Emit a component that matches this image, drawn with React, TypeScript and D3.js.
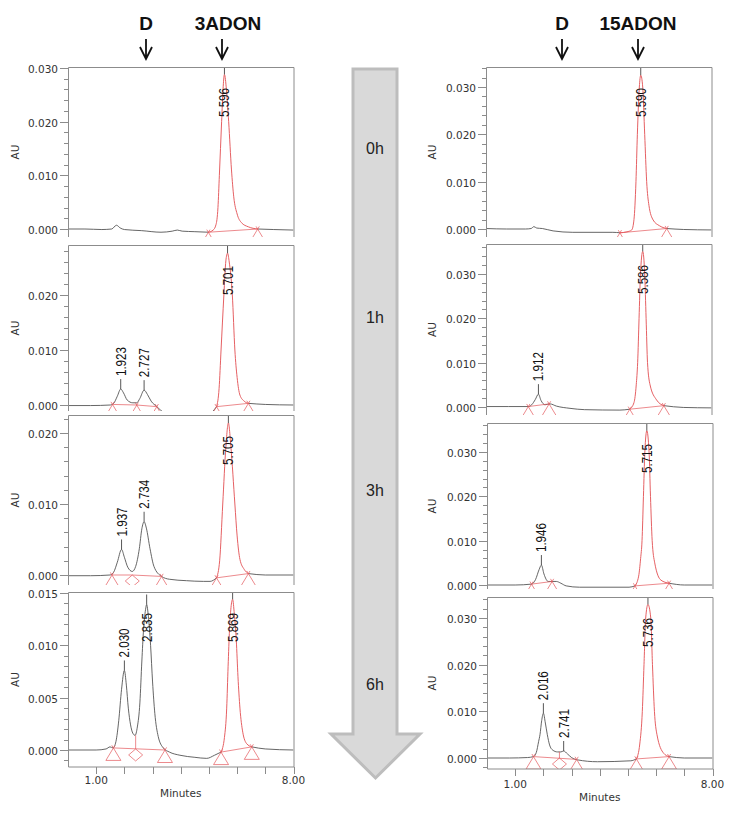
import React from 'react';
import * as d3 from 'd3';

type P = [number, number];
type Lab = [number, number, string];
type Mk = [number, number, string];
type BL = [number, number, number, number];

// ---------------- data ----------------
const timeLabels = ['0h', '1h', '3h', '6h'];
const headerLeft = ['D', '3ADON'];
const headerRight = ['D', '15ADON'];
const xTickValues = [1, 2, 3, 4, 5, 6, 7, 8];
const xTickLabels = ['1.00', '8.00'];

// left column (3ADON)
const traceL0: P[] = [[0, 0], [0.6, 0], [1.2, -0.0001], [1.55, 0], [1.72, 0.0007], [1.85, 0.0002], [2.0, -0.0001], [2.6, -0.0003], [3.3, -0.0006], [3.7, -0.0004], [3.88, -0.0002], [4.05, -0.0004], [4.5, -0.0005], [4.98, -0.0006], [5.15, -0.0002], [5.25, 0.0008], [5.32, 0.004], [5.37, 0.010], [5.45, 0.020], [5.5, 0.026], [5.55, 0.0288], [5.62, 0.026], [5.7, 0.020], [5.8, 0.011], [5.88, 0.006], [6.0, 0.0028], [6.15, 0.0012], [6.4, 0.0004], [6.73, 0], [7.3, -0.0001], [8.0, -0.0002]];
const redL0: [number, number][] = [[4.98, 6.73]];
const baseL0: BL[] = [[4.98, -0.0006, 6.73, 0]];
const markL0: Mk[] = [[4.98, -0.0006, 'tri'], [6.73, 0, 'tri']];
const labL0: Lab[] = [[5.55, 0.0288, '5.596']];

const traceL1: P[] = [[0, -0.0001], [0.8, -0.0001], [1.5, 0], [1.62, 0.0003], [1.75, 0.0016], [1.87, 0.0029], [1.97, 0.0022], [2.1, 0.0009], [2.3, 0.0004], [2.44, 0.0004], [2.55, 0.0012], [2.7, 0.0027], [2.82, 0.0019], [2.95, 0.0007], [3.15, -0.0003], [3.4, -0.0014], [3.8, -0.0022], [4.5, -0.0025], [5.0, -0.0018], [5.27, -0.0003], [5.36, 0.003], [5.43, 0.010], [5.53, 0.020], [5.6, 0.0262], [5.66, 0.0276], [5.72, 0.026], [5.83, 0.020], [5.92, 0.010], [6.0, 0.005], [6.1, 0.0018], [6.25, 0.0007], [6.4, 0.0003], [7.0, 0.0001], [8.0, 0]];
const redL1: [number, number][] = [[5.27, 6.4]];
const baseL1: BL[] = [[1.58, 0.0001, 2.44, 0], [2.44, 0, 3.15, -0.0003], [5.27, -0.0003, 6.4, 0.0003]];
const markL1: Mk[] = [[1.58, 0.0001, 'tri'], [2.44, 0, 'tri'], [3.15, -0.0003, 'tri'], [5.27, -0.0003, 'tri'], [6.4, 0.0003, 'tri']];
const labL1: Lab[] = [[1.87, 0.0029, '1.923'], [2.7, 0.0027, '2.727'], [5.66, 0.0276, '5.701']];

const traceL3: P[] = [[0, -0.0001], [0.8, -0.0001], [1.49, 0], [1.62, 0.0004], [1.75, 0.0018], [1.9, 0.0036], [2.0, 0.0025], [2.12, 0.0011], [2.28, 0.0005], [2.4, 0.0012], [2.53, 0.0037], [2.62, 0.0065], [2.7, 0.0075], [2.78, 0.0066], [2.91, 0.0037], [3.05, 0.0012], [3.32, -0.0002], [3.6, -0.0006], [4.2, -0.0008], [4.8, -0.0009], [5.04, -0.0009], [5.27, -0.0004], [5.38, 0.002], [5.49, 0.010], [5.6, 0.018], [5.69, 0.0214], [5.78, 0.018], [5.92, 0.010], [6.0, 0.0055], [6.1, 0.0022], [6.25, 0.0008], [6.4, 0.0002], [7.0, 0], [8.0, 0]];
const redL3: [number, number][] = [[5.27, 6.4]];
const baseL3: BL[] = [[1.56, 0, 2.28, 0], [2.28, 0, 3.32, -0.0002], [5.27, -0.0004, 6.4, 0.0002]];
const markL3: Mk[] = [[1.56, 0, 'tri'], [2.28, 0, 'dia'], [3.32, -0.0002, 'tri'], [5.27, -0.0004, 'tri'], [6.4, 0.0002, 'tri']];
const labL3: Lab[] = [[1.9, 0.0036, '1.937'], [2.7, 0.0075, '2.734'], [5.69, 0.0214, '5.705']];

const traceL6: P[] = [[0, 0], [1.0, 0], [1.35, 0.0001], [1.49, 0.0003], [1.6, 0.0002], [1.7, 0.0008], [1.8, 0.0028], [1.9, 0.0058], [2.0, 0.0076], [2.07, 0.0062], [2.14, 0.004], [2.22, 0.0024], [2.3, 0.0016], [2.38, 0.0014], [2.46, 0.0022], [2.55, 0.0045], [2.62, 0.0085], [2.68, 0.0115], [2.75, 0.0134], [2.79, 0.0139], [2.85, 0.0128], [2.93, 0.010], [3.0, 0.0065], [3.08, 0.0035], [3.2, 0.0013], [3.38, 0.0002], [3.6, -0.0002], [3.97, -0.0005], [4.5, -0.0007], [4.92, -0.0008], [5.2, -0.0005], [5.43, -0.0002], [5.55, 0.0012], [5.63, 0.004], [5.68, 0.008], [5.73, 0.0115], [5.79, 0.0138], [5.84, 0.0144], [5.9, 0.013], [5.97, 0.0105], [6.03, 0.007], [6.1, 0.004], [6.2, 0.0017], [6.34, 0.0006], [6.52, 0.0003], [7.0, 0.0001], [8.0, 0]];
const redL6: [number, number][] = [[5.43, 6.52]];
const baseL6: BL[] = [[1.61, 0.0002, 3.44, 0], [5.43, -0.0002, 6.52, 0.0003]];
const dropL6: P[] = [[2.4, 0.0014]];
const markL6: Mk[] = [[1.61, 0.0002, 'tri'], [2.4, 0.0001, 'dia'], [3.44, 0, 'tri'], [5.43, -0.0002, 'tri'], [6.52, 0.0003, 'tri']];
const labL6: Lab[] = [[2.0, 0.0076, '2.030'], [2.79, 0.0139, '2.835'], [5.84, 0.0144, '5.869']];

// right column (15ADON)
const traceR0: P[] = [[0, 0.0001], [0.73, 0], [1.4, 0], [1.6, 0.0001], [1.7, 0.0005], [1.8, 0.0002], [2.0, 0.0001], [2.38, -0.0004], [3.08, -0.0007], [4.5, -0.0007], [4.75, -0.0008], [5.0, -0.0006], [5.17, -0.0002], [5.25, 0.002], [5.32, 0.010], [5.37, 0.020], [5.44, 0.030], [5.49, 0.0325], [5.56, 0.030], [5.63, 0.020], [5.7, 0.010], [5.78, 0.005], [5.93, 0.0019], [6.15, 0.0007], [6.41, 0.0001], [7.0, -0.0001], [8.0, -0.0002]];
const redR0: [number, number][] = [[4.75, 6.41]];
const baseR0: BL[] = [[4.75, -0.0008, 6.41, 0.0001]];
const markR0: Mk[] = [[4.75, -0.0008, 'tri'], [6.41, 0.0001, 'tri']];
const labR0: Lab[] = [[5.49, 0.0325, '5.590']];

const traceR1: P[] = [[0, 0.0001], [0.8, 0.0001], [1.5, 0.0001], [1.62, 0.0005], [1.75, 0.0017], [1.86, 0.0029], [1.95, 0.0015], [2.09, 0.0005], [2.27, 0.0007], [2.5, 0.0002], [2.98, -0.0003], [3.5, -0.0006], [4.75, -0.0007], [5.1, -0.0005], [5.25, 0.001], [5.33, 0.005], [5.38, 0.010], [5.43, 0.020], [5.48, 0.030], [5.56, 0.0351], [5.63, 0.030], [5.68, 0.020], [5.73, 0.010], [5.82, 0.005], [6.05, 0.0016], [6.31, 0.0003], [7.0, -0.0001], [8.0, -0.0002]];
const redR1: [number, number][] = [[5.1, 6.31]];
const baseR1: BL[] = [[1.5, 0.0001, 2.24, 0.0007], [5.1, -0.0005, 6.31, 0.0003]];
const markR1: Mk[] = [[1.5, 0.0001, 'tri'], [2.24, 0.0007, 'tri'], [5.1, -0.0005, 'tri'], [6.31, 0.0003, 'tri']];
const labR1: Lab[] = [[1.86, 0.0029, '1.912'], [5.56, 0.0351, '5.586']];

const traceR3: P[] = [[0, 0], [1.0, 0], [1.58, 0.0002], [1.72, 0.0012], [1.85, 0.0035], [1.93, 0.0045], [2.02, 0.0025], [2.17, 0.0008], [2.46, 0.0008], [2.62, 0.0004], [2.81, -0.0002], [3.28, -0.0005], [5.04, -0.0005], [5.25, -0.0002], [5.38, 0.002], [5.45, 0.006], [5.5, 0.010], [5.55, 0.020], [5.6, 0.030], [5.67, 0.0348], [5.75, 0.030], [5.8, 0.020], [5.86, 0.010], [5.95, 0.005], [6.17, 0.0011], [6.46, 0.0004], [7.0, 0], [8.0, 0]];
const redR3: [number, number][] = [[5.25, 6.46]];
const baseR3: BL[] = [[1.58, 0.0002, 2.31, 0.0008], [5.25, -0.0002, 6.46, 0.0004]];
const markR3: Mk[] = [[1.58, 0.0002, 'tri'], [2.31, 0.0008, 'tri'], [5.25, -0.0002, 'tri'], [6.46, 0.0004, 'tri']];
const labR3: Lab[] = [[1.93, 0.0045, '1.946'], [5.67, 0.0348, '5.715']];

const traceR6: P[] = [[0, 0], [0.8, 0], [1.44, 0.0001], [1.65, 0.0003], [1.75, 0.0012], [1.83, 0.0035], [1.88, 0.005], [1.94, 0.008], [2.0, 0.0096], [2.07, 0.0075], [2.14, 0.005], [2.22, 0.0028], [2.33, 0.0017], [2.5, 0.0013], [2.62, 0.0013], [2.72, 0.0015], [2.85, 0.0009], [3.0, 0.0001], [3.21, -0.0004], [3.92, -0.0008], [5.1, -0.0006], [5.3, -0.0002], [5.42, 0.003], [5.51, 0.010], [5.57, 0.020], [5.63, 0.030], [5.71, 0.0329], [5.81, 0.030], [5.87, 0.020], [5.94, 0.010], [6.03, 0.005], [6.27, 0.001], [6.46, 0.0003], [7.0, 0], [8.0, 0]];
const redR6: [number, number][] = [[5.3, 6.46]];
const baseR6: BL[] = [[1.65, 0.0003, 3.18, -0.0003], [5.3, -0.0002, 6.46, 0.0003]];
const dropR6: P[] = [[2.57, 0.0013]];
const markR6: Mk[] = [[1.65, 0.0003, 'tri'], [2.57, 0.0, 'dia'], [3.18, -0.0003, 'tri'], [5.3, -0.0002, 'tri'], [6.46, 0.0003, 'tri']];
const labR6: Lab[] = [[2.0, 0.0096, '2.016'], [2.72, 0.0015, '2.741'], [5.71, 0.0329, '5.736']];

// ---------------- layout ----------------
const W = 735, H = 819;
const PW = 225.5;
const RED = '#e4575b';
const TRACE = '#4a4a4a';
const FRAME = '#8c8c8c';
const TXT = '#333';

type Layout = { x0: number; top: number; bottom: number; zeroY: number; refVal: number; refY: number; major: number; minor: number; axis?: boolean; axisLabelY?: number; minutesY?: number; auX: number };

const panels = [
  { id: 'L0', lay: { x0: 68, top: 67, bottom: 237, zeroY: 229, refVal: 0.03, refY: 68, major: 0.01, minor: 0.002, auX: 15 }, trace: traceL0, red: redL0, base: baseL0, mark: markL0, lab: labL0, drop: [] as P[] },
  { id: 'L1', lay: { x0: 68, top: 245, bottom: 411, zeroY: 405, refVal: 0.02, refY: 295, major: 0.01, minor: 0.002, auX: 15 }, trace: traceL1, red: redL1, base: baseL1, mark: markL1, lab: labL1, drop: [] as P[] },
  { id: 'L3', lay: { x0: 68, top: 415, bottom: 585, zeroY: 575, refVal: 0.02, refY: 433, major: 0.01, minor: 0.002, auX: 15 }, trace: traceL3, red: redL3, base: baseL3, mark: markL3, lab: labL3, drop: [] as P[] },
  { id: 'L6', lay: { x0: 68, top: 592, bottom: 767, zeroY: 750, refVal: 0.015, refY: 593, major: 0.005, minor: 0.001, axis: true, axisLabelY: 780, minutesY: 793, auX: 15 }, trace: traceL6, red: redL6, base: baseL6, mark: markL6, lab: labL6, drop: dropL6 },
  { id: 'R0', lay: { x0: 486, top: 67, bottom: 237, zeroY: 229, refVal: 0.03, refY: 87, major: 0.01, minor: 0.002, auX: 432 }, trace: traceR0, red: redR0, base: baseR0, mark: markR0, lab: labR0, drop: [] as P[] },
  { id: 'R1', lay: { x0: 486, top: 244, bottom: 415, zeroY: 407, refVal: 0.03, refY: 274, major: 0.01, minor: 0.002, auX: 432 }, trace: traceR1, red: redR1, base: baseR1, mark: markR1, lab: labR1, drop: [] as P[] },
  { id: 'R3', lay: { x0: 487, top: 423, bottom: 589, zeroY: 585, refVal: 0.03, refY: 452, major: 0.01, minor: 0.002, auX: 432 }, trace: traceR3, red: redR3, base: baseR3, mark: markR3, lab: labR3, drop: [] as P[] },
  { id: 'R6', lay: { x0: 487, top: 597, bottom: 769, zeroY: 758, refVal: 0.03, refY: 618, major: 0.01, minor: 0.002, axis: true, axisLabelY: 784, minutesY: 797, auX: 432 }, trace: traceR6, red: redR6, base: baseR6, mark: markR6, lab: labR6, drop: dropR6 },
];

function Panel({ p }: { p: typeof panels[number] }) {
  const L = p.lay as Layout;
  const x = d3.scaleLinear().domain([0, 8]).range([L.x0, L.x0 + PW]);
  const y = d3.scaleLinear().domain([0, L.refVal]).range([L.zeroY, L.refY]);
  const line = d3.line<P>().x(d => x(d[0])).y(d => y(d[1])).curve(d3.curveMonotoneX);
  const x1 = L.x0 + PW;
  const yMin = y.invert(L.bottom), yMax = y.invert(L.top);
  const n0 = Math.ceil(yMin / L.minor - 1e-6), n1 = Math.floor(yMax / L.minor + 1e-6);
  const ticks = d3.range(n0, n1 + 1).map(i => i * L.minor);
  const isMajor = (v: number) => Math.abs(v / L.major - Math.round(v / L.major)) < 1e-6;
  const clipId = 'clip-' + p.id;

  const eps = 1e-9;
  const redSegs = p.red.map(([a, b]) => p.trace.filter(d => d[0] >= a - eps && d[0] <= b + eps));
  // black pieces: complement of red ranges (sharing the boundary points)
  const cuts = [-Infinity, ...p.red.flat(), Infinity];
  const blackSegs: P[][] = [];
  for (let i = 0; i < cuts.length; i += 2) {
    const a = cuts[i], b = cuts[i + 1];
    const seg = p.trace.filter(d => d[0] >= a - eps && d[0] <= b + eps);
    if (seg.length > 1) blackSegs.push(seg);
  }

  const baseAt = (t: number) => {
    for (const b of p.base) {
      if (t >= b[0] && t <= b[2]) return b[1] + (b[3] - b[1]) * (t - b[0]) / (b[2] - b[0]);
    }
    return 0;
  };

  const markerPath = (m: Mk) => {
    const px = x(m[0]), py = y(m[1]);
    if (m[2] === 'dia') {
      return `M${px},${py}L${px + 7},${py + 6}L${px},${py + 12}L${px - 7},${py + 6}Z`;
    }
    const hw = 7.5, h = 12.5, ex = 1.6, ey = 2.6;
    return `M${px - hw},${py + h}L${px + ex},${py - ey}M${px + hw},${py + h}L${px - ex},${py - ey}M${px - hw},${py + h}L${px + hw},${py + h}`;
  };

  return (
    <g>
      <defs>
        <clipPath id={clipId}>
          <rect x={L.x0} y={L.top} width={PW} height={L.bottom - L.top} />
        </clipPath>
      </defs>
      <g clipPath={`url(#${clipId})`}>
        {blackSegs.map((s, i) => (
          <path key={'b' + i} d={line(s) || ''} fill="none" stroke={TRACE} strokeWidth={0.85} />
        ))}
        {redSegs.map((s, i) => (
          <path key={'r' + i} d={line(s) || ''} fill="none" stroke={RED} strokeWidth={0.95} />
        ))}
        {p.base.map((b, i) => (
          <line key={i} x1={x(b[0])} y1={y(b[1])} x2={x(b[2])} y2={y(b[3])} stroke={RED} strokeWidth={0.7} />
        ))}
        {p.drop.map((d, i) => (
          <line key={i} x1={x(d[0])} y1={y(d[1])} x2={x(d[0])} y2={y(baseAt(d[0]))} stroke={RED} strokeWidth={0.7} />
        ))}
        {p.mark.map((m, i) => (
          <path key={i} d={markerPath(m)} fill="none" stroke={RED} strokeWidth={0.7} />
        ))}
        {p.lab.map((l, i) => {
          const px = x(l[0]), ay = y(l[1]);
          const lineTop = Math.max(ay - 10, L.top);
          let textTop = ay - 42;
          if (textTop < L.top + 21) textTop = L.top + 21;
          const textBottom = textTop + 29;
          return (
            <g key={i}>
              <line x1={px} y1={ay} x2={px} y2={lineTop} stroke="#444" strokeWidth={0.9} />
              <text transform={`translate(${px},${textBottom}) rotate(-90)`} fontFamily="'Liberation Sans', Arial, sans-serif" fontSize={14} textLength={29} lengthAdjust="spacingAndGlyphs" dominantBaseline="central" fill="#111">{l[2]}</text>
            </g>
          );
        })}
      </g>
      {/* frame */}
      <path d={`M${L.x0 + 0.5},${L.bottom}V${L.top + 0.5}H${x1 + 0.5}V${L.bottom}` + (L.axis ? `H${L.x0 + 0.5}` : '')} fill="none" stroke={FRAME} strokeWidth={1} />
      {/* y ticks */}
      {ticks.map((v, i) => {
        const yy = Math.round(y(v)) + 0.5;
        const maj = isMajor(v);
        return (
          <g key={i}>
            <line x1={L.x0 - (maj ? 8 : 4)} x2={L.x0} y1={yy} y2={yy} stroke={FRAME} strokeWidth={1} />
            {maj && (
              <text x={L.x0 - 10} y={yy} textAnchor="end" dominantBaseline="central" fontFamily="'DejaVu Sans', Verdana, sans-serif" fontSize={10.5} fill={TXT}>{v.toFixed(3)}</text>
            )}
          </g>
        );
      })}
      <text transform={`translate(${L.auX},${(L.top + L.bottom) / 2}) rotate(-90)`} textAnchor="middle" dominantBaseline="central" fontFamily="'DejaVu Sans', Verdana, sans-serif" fontSize={10.5} fill={TXT}>AU</text>
      {L.axis && (
        <g>
          {xTickValues.map((t, i) => (
            <line key={i} x1={Math.round(x(t)) + 0.5} x2={Math.round(x(t)) + 0.5} y1={L.bottom} y2={L.bottom + 7} stroke={FRAME} strokeWidth={1} />
          ))}
          <text x={x(1)} y={L.axisLabelY} textAnchor="middle" dominantBaseline="central" fontFamily="'DejaVu Sans', Verdana, sans-serif" fontSize={10.5} fill={TXT}>{xTickLabels[0]}</text>
          <text x={x(8)} y={L.axisLabelY} textAnchor="middle" dominantBaseline="central" fontFamily="'DejaVu Sans', Verdana, sans-serif" fontSize={10.5} fill={TXT}>{xTickLabels[1]}</text>
          <text x={(L.x0 + x1) / 2} y={L.minutesY} textAnchor="middle" dominantBaseline="central" fontFamily="'DejaVu Sans', Verdana, sans-serif" fontSize={10.5} fill={TXT}>Minutes</text>
        </g>
      )}
    </g>
  );
}

function DownArrow({ cx }: { cx: number }) {
  return <path d={`M${cx},39V59M${cx - 6},47L${cx},59L${cx + 6},47`} fill="none" stroke="#111" strokeWidth={1.8} />;
}

export default function App() {
  const timeY = [148, 317, 490, 684];
  const hdrFont = "'Liberation Sans', Arial, sans-serif";
  return (
    <svg width={W} height={H} style={{ position: 'absolute', left: 0, top: 0, background: '#fff' }}>
      <rect width={W} height={H} fill="#fff" />
      {/* headers */}
      <text x={146} y={30} textAnchor="middle" fontFamily={hdrFont} fontWeight="bold" fontSize={19} fill="#111">{headerLeft[0]}</text>
      <text x={228} y={30} textAnchor="middle" fontFamily={hdrFont} fontWeight="bold" fontSize={19} fill="#111">{headerLeft[1]}</text>
      <DownArrow cx={146} />
      <DownArrow cx={222} />
      <text x={562} y={30} textAnchor="middle" fontFamily={hdrFont} fontWeight="bold" fontSize={19} fill="#111">{headerRight[0]}</text>
      <text x={638} y={30} textAnchor="middle" fontFamily={hdrFont} fontWeight="bold" fontSize={19} fill="#111">{headerRight[1]}</text>
      <DownArrow cx={562} />
      <DownArrow cx={638} />
      {/* big arrow */}
      <path d="M353,69H397V734H420L375.5,778L331,734H353Z" fill="#d9d9d9" stroke="#bdbdbd" strokeWidth={3} strokeLinejoin="miter" />
      {timeLabels.map((t, i) => (
        <text key={t} x={375} y={timeY[i]} textAnchor="middle" dominantBaseline="central" fontFamily={hdrFont} fontSize={16} fill="#222">{t}</text>
      ))}
      {panels.map(p => <Panel key={p.id} p={p} />)}
    </svg>
  );
}
